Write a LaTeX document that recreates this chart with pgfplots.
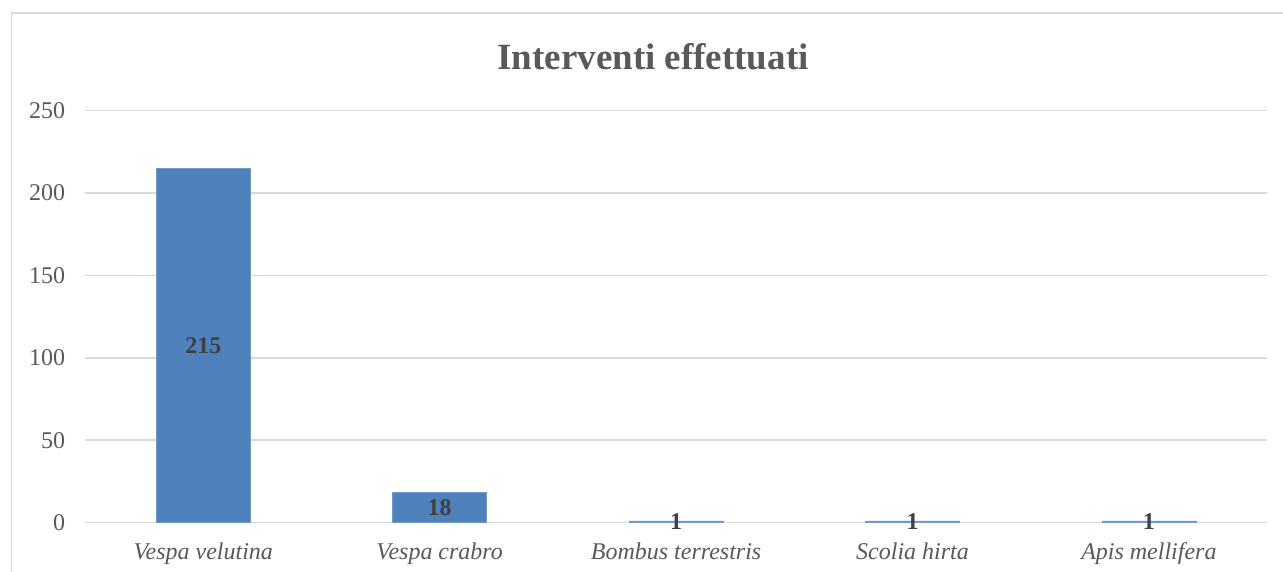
\documentclass[border=0pt]{standalone}
\usepackage{pgfplots}
\pgfplotsset{compat=1.18}
\usepackage{fontspec}
\setmainfont{Liberation Serif}
\definecolor{barblue}{HTML}{4F81BD}
\definecolor{txtgray}{HTML}{595959}
\definecolor{lblgray}{HTML}{404040}
\definecolor{gridgray}{HTML}{D9D9D9}
\begin{document}
\begin{tikzpicture}[x=1pt,y=1pt]
\path[use as bounding box] (0,0) rectangle (641.5,286);
\draw[gridgray, line width=0.8pt] (5.75,0) -- (5.75,279.5) -- (641.5,279.5);
\node[font=\fontsize{18.5}{22}\selectfont\bfseries, text=txtgray] at (326.5,257.5) {Interventi effettuati};
\begin{axis}[
  at={(36,30)}, anchor=south west,
  scale only axis, width=591pt, height=206pt,
  xmin=-0.5, xmax=4.5, ymin=0, ymax=250,
  ytick={0,50,100,150,200,250},
  xtick={0,1,2,3,4},
  xticklabels={Vespa velutina, Vespa crabro, Bombus terrestris, Scolia hirta, Apis mellifera},
  xticklabel style={font=\fontsize{12}{14}\selectfont\itshape, text=txtgray, yshift=-6.5pt},
  yticklabel style={font=\fontsize{12}{14}\selectfont, text=txtgray, xshift=-6.5pt},
  /pgf/number format/assume math mode=true,
  axis line style={draw=none},
  tick style={draw=none},
  ymajorgrids, grid style={gridgray, line width=0.8pt},
  clip=false,
]
\addplot[ybar, bar width=47pt, fill=barblue, draw=barblue!80!white, line width=0.4pt] coordinates {(0,215) (1,18) (2,1) (3,1) (4,1)};
\addplot[draw=none, mark=none, nodes near coords, point meta=explicit symbolic,
  every node near coord/.style={anchor=center, font=\fontsize{12}{14}\selectfont\bfseries, text=lblgray}]
  coordinates {(0,107.5) [215] (1,9) [18] (2,0.5) [1] (3,0.5) [1] (4,0.5) [1]};
\end{axis}
\end{tikzpicture}
\end{document}
